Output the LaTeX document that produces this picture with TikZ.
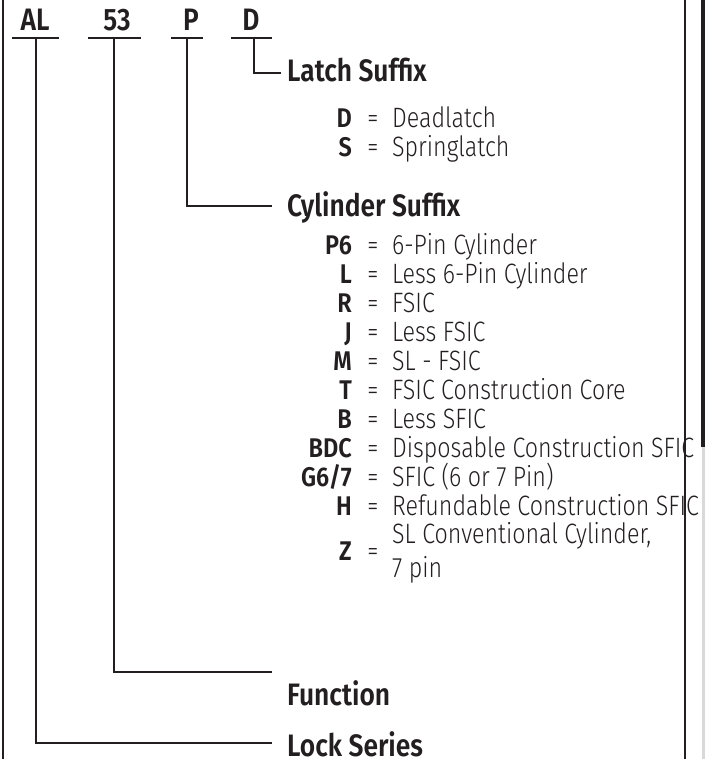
\documentclass[tikz,border=0pt]{standalone}
\usepackage{fontspec}
\setmainfont{Fira Sans}
\newfontfamily\hdfont[FakeStretch=0.85]{Fira Sans SemiBold}
\newfontfamily\codefont[FakeStretch=0.87]{Fira Sans SemiBold}
\newfontfamily\descfont[FakeStretch=0.83]{Fira Sans Light}
\definecolor{ink}{HTML}{231F20}
\begin{document}
\begin{tikzpicture}[x={(1pt,0)},y={(0,-1pt)},
  conn/.style={line width=2.6pt,draw=ink},
  border/.style={line width=1.5pt,draw=ink},
  hd/.style={inner sep=0pt,anchor=base west,font=\hdfont\fontsize{31}{34}\selectfont,text=ink},
  top/.style={inner sep=0pt,anchor=base,font=\hdfont\fontsize{31}{34}\selectfont,text=ink},
  codest/.style={inner sep=0pt,anchor=base east,font=\codefont\fontsize{27}{30}\selectfont,text=ink},
  eqst/.style={inner sep=0pt,anchor=base,font=\descfont\fontsize{27}{30}\selectfont,text=ink},
  descst/.style={inner sep=0pt,anchor=base west,font=\descfont\fontsize{28}{30}\selectfont,text=ink}]
\useasboundingbox (0,0) rectangle (705,759);
% borders
\draw[border] (3,0) -- (3,759);
\draw[border] (685,0) -- (685,759);
\fill[ink] (701,0) rectangle (705,447);
\fill[black!15] (702,447) rectangle (705,759);
% header
\node[top] (al) at (35,30.5) {AL};
\node[top] (ft) at (117,30.5) {53};
\node[top] (cy) at (191,30.5) {P};
\node[top] (la) at (251,30.5) {D};
\draw[conn] (12,38) -- (59,38);
\draw[conn] (88,38) -- (141,38);
\draw[conn] (171,38) -- (203,38);
\draw[conn] (231,38) -- (272,38);
\coordinate (alb) at (36,38);
\coordinate (ftb) at (114,38);
\coordinate (cyb) at (187,38);
\coordinate (lab) at (254,38);
% section labels
\node[hd] (latch) at (287,82) {Latch Suffix};
\node[hd] (cyl) at (287,217) {Cylinder Suffix};
\node[hd] (func) at (287,705) {Function};
\node[hd,text depth=0pt] (lock) at (287,756) {Lock Series};
\coordinate (latche) at (281,73);
\coordinate (cyle) at (272,206);
\coordinate (funce) at (272,672);
\coordinate (locke) at (272,743);
\draw[conn] (lab) |- (latche);
\draw[conn] (cyb) |- (cyle);
\draw[conn] (ftb) |- (funce);
\draw[conn] (alb) |- (locke);
% latch options
\node[codest] (c1) at (352,128) {D};
\node[eqst]   (e1) at (373,128) {=};
\node[descst] (d1) at (392,128) {Deadlatch};
\node[codest] (c2) at (352,157) {S};
\node[eqst]   (e2) at (373,157) {=};
\node[descst] (d2) at (392,157) {Springlatch};
% cylinder options
\foreach \n/\c/\d/\y in {3/P6/6-Pin Cylinder/254, 4/L/Less 6-Pin Cylinder/283,
  5/R/FSIC/312, 6/J/Less FSIC/341, 7/M/SL - FSIC/370, 8/T/FSIC Construction Core/399,
  9/B/Less SFIC/428, 10/BDC/Disposable Construction SFIC/457, 11/G6\slash 7/SFIC (6 or 7 Pin)/486,
  12/H/Refundable Construction SFIC/515}{
  \node[codest] (c\n) at (352,\y) {\c};
  \node[eqst]   (e\n) at (373,\y) {=};
  \node[descst] (d\n) at (392,\y) {\d};
}
\node[codest] (c13) at (352,560) {Z};
\node[eqst]   (e13) at (373,560) {=};
\node[descst] (d13) at (392,543) {SL Conventional Cylinder,};
\node[descst] (d14) at (392,577) {7 pin};
\end{tikzpicture}
\end{document}
